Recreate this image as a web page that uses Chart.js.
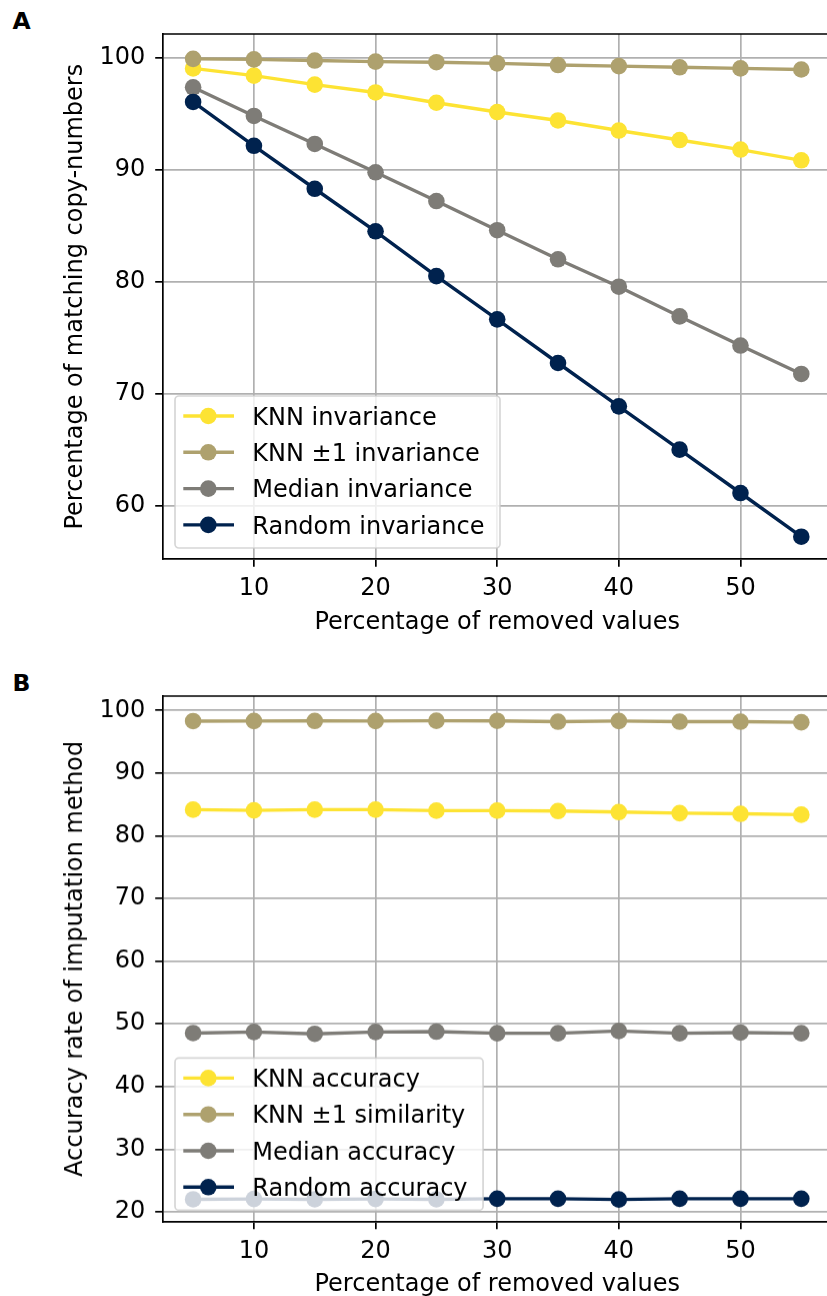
<!DOCTYPE html>
<html><head><meta charset="utf-8">
<script src="https://cdn.jsdelivr.net/npm/chart.js@4/dist/chart.umd.min.js"></script>
<style>
html,body{margin:0;padding:0;background:#fff;overflow:hidden;width:827px;height:1296px;position:relative;}
.panel{position:absolute;left:0;width:840px;}
.panel canvas{display:block}
.lbl{position:absolute;left:12.5px;font:bold 23.5px 'DejaVu Sans';color:#000;line-height:1;}
</style></head><body>
<div class="lbl" style="top:10px">A</div>
<div class="panel" style="top:0;height:637px"><canvas id="ca"></canvas></div>
<div class="lbl" style="top:671.5px">B</div>
<div class="panel" style="top:660px;height:638.5px"><canvas id="cb"></canvas></div>
<script>
// ---------- data ----------
const removedPct = [5, 10, 15, 20, 25, 30, 35, 40, 45, 50, 55];
const xTicks = [10, 20, 30, 40, 50];
const yTicksA = [60, 70, 80, 90, 100];
const yTicksB = [20, 30, 40, 50, 60, 70, 80, 90, 100];

const labelsA = ['KNN invariance', 'KNN \u00b11 invariance', 'Median invariance', 'Random invariance'];
const knnInvariance    = [99.05, 98.4, 97.6, 96.9, 95.98, 95.15, 94.4, 93.5, 92.65, 91.8, 90.84];
const knnPm1Invariance = [99.9, 99.85, 99.75, 99.65, 99.6, 99.5, 99.35, 99.25, 99.15, 99.05, 98.95];
const medianInvariance = [97.36, 94.8, 92.3, 89.77, 87.2, 84.6, 82.0, 79.55, 76.9, 74.3, 71.76];
const randomInvariance = [96.05, 92.14, 88.3, 84.5, 80.5, 76.64, 72.74, 68.87, 65.0, 61.13, 57.23];

const labelsB = ['KNN accuracy', 'KNN \u00b11 similarity', 'Median accuracy', 'Random accuracy'];
const knnAccuracy      = [84.16, 84.05, 84.16, 84.16, 84.0, 84.0, 83.94, 83.78, 83.6, 83.5, 83.36];
const knnPm1Similarity = [98.29, 98.3, 98.32, 98.3, 98.34, 98.33, 98.2, 98.3, 98.2, 98.2, 98.1];
const medianAccuracy   = [48.53, 48.7, 48.4, 48.7, 48.75, 48.5, 48.5, 48.85, 48.5, 48.6, 48.5];
const randomAccuracy   = [22.0, 22.05, 22.0, 22.05, 22.0, 22.1, 22.1, 21.97, 22.1, 22.1, 22.1];

const colors = ['#FDE333', '#AEA16E', '#7E7C77', '#00224E'];

// ---------- style ----------
const FS = 24;
Chart.defaults.font.family = "'DejaVu Sans'";
Chart.defaults.font.size = FS;
Chart.defaults.color = '#000';

const frameLegend = {
  id: 'frameLegend',
  afterDatasetsDraw(chart) {
    const {ctx, chartArea: a} = chart;
    ctx.save();
    // top/right spines
    ctx.strokeStyle = '#000'; ctx.lineWidth = 1.7;
    ctx.beginPath();
    ctx.moveTo(a.left, a.top); ctx.lineTo(a.right, a.top); ctx.lineTo(a.right, a.bottom);
    ctx.stroke();
    // legend
    ctx.font = FS + "px 'DejaVu Sans'";
    const ds = chart.data.datasets;
    const maxW = Math.max(...ds.map(d => ctx.measureText(d.label).width));
    const bx = a.left + 12.3, bw = 77.3 + maxW + 15.5, bh = 152;
    const by = a.bottom - 11.3 - bh;
    ctx.beginPath();
    ctx.roundRect(bx, by, bw, bh, 4);
    ctx.fillStyle = 'rgba(255,255,255,0.8)'; ctx.fill();
    ctx.strokeStyle = 'rgba(204,204,204,0.8)'; ctx.lineWidth = 1.7; ctx.stroke();
    ds.forEach((d, i) => {
      const cy = by + 20 + i * 36.3;
      ctx.strokeStyle = d.borderColor; ctx.lineWidth = 3.4;
      ctx.beginPath(); ctx.moveTo(bx + 8.3, cy); ctx.lineTo(bx + 59, cy); ctx.stroke();
      ctx.fillStyle = d.backgroundColor;
      ctx.beginPath(); ctx.arc(bx + 33.3, cy, 8.3, 0, Math.PI * 2); ctx.fill();
      ctx.fillStyle = '#000'; ctx.textBaseline = 'alphabetic';
      ctx.fillText(d.label, bx + 77.3, cy + 8.7);
    });
    ctx.restore();
  }
};

function makeChart(id, labels, series, yTicks, yMin, yMax, yTitle, padTop, xHeight) {
  const padLeft = 76 - FS * 0.6;
  return new Chart(document.getElementById(id), {
    type: 'line',
    data: {
      datasets: series.map((s, i) => ({
        label: labels[i],
        data: removedPct.map((x, j) => ({x, y: s[j]})),
        borderColor: colors[i],
        backgroundColor: colors[i],
        borderWidth: 3.4,
        pointRadius: 8.3,
        pointHoverRadius: 8.3,
        pointBorderWidth: 0,
        tension: 0,
        order: 4 - i
      }))
    },
    options: {
      responsive: true,
      maintainAspectRatio: false,
      animation: false,
      events: [],
      layout: {padding: {top: padTop, left: padLeft, right: 3.7, bottom: 0}},
      plugins: {legend: {display: false}, tooltip: {enabled: false}},
      scales: {
        x: {
          type: 'linear', min: 2.5, max: 57.5,
          afterBuildTicks: s => { s.ticks = xTicks.map(v => ({value: v})); },
          afterFit: s => { s.height = xHeight; },
          ticks: {padding: 8, color: '#000', font: {size: FS}},
          grid: {color: '#b0b0b0', lineWidth: 1.7, tickColor: '#000', tickWidth: 1.7, tickLength: 7.5},
          border: {display: true, color: '#000', width: 1.7},
          title: {display: true, text: 'Percentage of removed values', padding: 0, font: {size: FS, lineHeight: 1.2}}
        },
        y: {
          type: 'linear', min: yMin, max: yMax,
          afterBuildTicks: s => { s.ticks = yTicks.map(v => ({value: v})); },
          afterFit: s => { s.width = 162.7 - padLeft; },
          ticks: {padding: 10, color: '#000', font: {size: FS}},
          grid: {color: '#b0b0b0', lineWidth: 1.7, tickColor: '#000', tickWidth: 1.7, tickLength: 7.5},
          border: {display: true, color: '#000', width: 1.7},
          title: {display: true, text: yTitle, padding: 0, font: {size: FS, lineHeight: 1.2}}
        }
      }
    },
    plugins: [frameLegend]
  });
}

makeChart('ca', labelsA, [knnInvariance, knnPm1Invariance, medianInvariance, randomInvariance],
  yTicksA, 55.21, 102.12, 'Percentage of matching copy-numbers', 34, 637 - 559.3);
makeChart('cb', labelsB, [knnAccuracy, knnPm1Similarity, medianAccuracy, randomAccuracy],
  yTicksB, 18.45, 102.28, 'Accuracy rate of imputation method', 36, 638.5 - 560.7);
</script>
</body></html>
